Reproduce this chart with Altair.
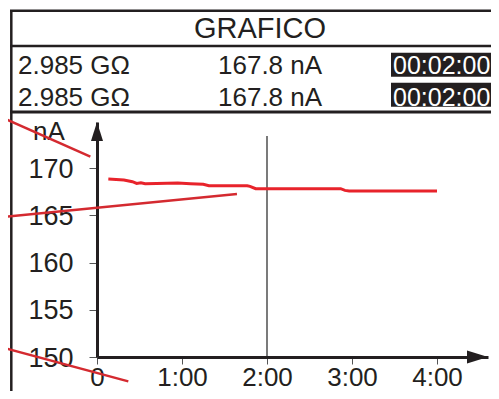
import altair as alt
import pandas as pd

# ---- data ----
TITLE = "GRAFICO"
RESISTANCE = ["2.985 GΩ", "2.985 GΩ"]
CURRENT = ["167.8 nA", "167.8 nA"]
TIMER = ["00:02:00", "00:02:00"]
Y_UNIT = "nA"

TIME_S = [8, 19, 25, 28, 31, 34, 42, 57, 66, 75, 79, 106, 108, 112, 172, 175, 178, 240]
CURRENT_NA = [168.83, 168.73, 168.55, 168.37, 168.44, 168.34, 168.37, 168.41, 168.34,
              168.27, 168.13, 168.13, 168.06, 167.81, 167.81, 167.63, 167.56, 167.56]

X_TICKS = [0, 60, 120, 180, 240]
Y_TICKS = [150, 155, 160, 165, 170]
X_DOMAIN = [0, 276]
Y_DOMAIN = [150, 174.87]

CURSOR_T = 120
CURSOR_TOP = 173.4

# callout (annotation) segments: id, start (t, v), end (t, v)
CALLOUT_ID = [1, 1, 2, 2, 3, 3]
CALLOUT_T = [-68.3, -4.7, -68.3, 98.8, -68.3, 22.1]
CALLOUT_V = [175.43, 171.2, 164.78, 167.25, 151.06, 147.42]

INK = "#231f20"
FONT = "Liberation Sans"
NARROW = "Liberation Sans Narrow, Arial Narrow, Liberation Sans"

xs = alt.Scale(domain=X_DOMAIN, nice=False, zero=False)
ys = alt.Scale(domain=Y_DOMAIN, nice=False, zero=False)

one = pd.DataFrame({"k": [0]})

x_axis = alt.Axis(
    values=X_TICKS, title=None, grid=False,
    labelExpr="datum.value == 0 ? '0' : (datum.value / 60) + ':00'",
    labelFont=NARROW, labelFontSize=26, labelColor=INK, labelPadding=0,
    tickSize=7, tickColor="#555555", tickWidth=1,
    domainColor=INK, domainWidth=3, labelFlush=False,
)
y_axis = alt.Axis(
    values=Y_TICKS, title=None, grid=False,
    labelFont=NARROW, labelFontSize=27, labelColor=INK, labelPadding=16,
    tickSize=8, tickColor="#555555", tickWidth=1, labelOffset=1,
    domainColor=INK, domainWidth=3, labelFlush=False,
)

series = pd.DataFrame({"t": TIME_S, "v": CURRENT_NA})
line = alt.Chart(series).mark_line(color="#e8232b", strokeWidth=3).encode(
    x=alt.X("t:Q", scale=xs, axis=x_axis),
    y=alt.Y("v:Q", scale=ys, axis=y_axis),
)

cursor = alt.Chart(pd.DataFrame({"t": [CURSOR_T], "v": [Y_DOMAIN[0]], "v2": [CURSOR_TOP]})).mark_rule(
    color="#222222", strokeWidth=1.2
).encode(x=alt.X("t:Q", scale=xs), y=alt.Y("v:Q", scale=ys), y2="v2:Q")

arrow_up = alt.Chart(pd.DataFrame({"t": [X_DOMAIN[0]], "v": [Y_DOMAIN[1]]})).mark_point(
    shape="M0,0 L0.6,1.9 L-0.6,1.9 Z", size=400, filled=True, color=INK, opacity=1
).encode(x=alt.X("t:Q", scale=xs), y=alt.Y("v:Q", scale=ys))
arrow_right = alt.Chart(pd.DataFrame({"t": [X_DOMAIN[1]], "v": [Y_DOMAIN[0]]})).mark_point(
    shape="M0,0 L-2.1,-0.65 L-2.1,0.65 Z", size=400, filled=True, color=INK, opacity=1
).encode(x=alt.X("t:Q", scale=xs), y=alt.Y("v:Q", scale=ys))

callouts = alt.Chart(pd.DataFrame({"id": CALLOUT_ID, "t": CALLOUT_T, "v": CALLOUT_V})).mark_line(
    color="#d42a30", strokeWidth=2.5
).encode(x=alt.X("t:Q", scale=xs), y=alt.Y("v:Q", scale=ys), detail="id:N")

# ---- display frame ----
def hrule(y, x1, x2, w):
    return alt.Chart(one).mark_rule(color=INK, strokeWidth=w).encode(
        x=alt.value(x1), x2=alt.value(x2), y=alt.value(y))

frame = [
    alt.Chart(one).mark_rule(color=INK, strokeWidth=2.5).encode(
        x=alt.value(-85.7), y=alt.value(-112), y2=alt.value(290)),
    hrule(-111.2, -87, 410, 2.5),
    hrule(-76, -87, 410, 2.5),
    hrule(-10, -87, 410, 3),
]

def label(txt, x, y, size, align="left", color=INK, font=FONT):
    return alt.Chart(pd.DataFrame({"s": [txt]})).mark_text(
        font=font, fontSize=size, align=align, baseline="alphabetic", color=color
    ).encode(text="s:N", x=alt.value(x), y=alt.value(y))

boxes = [
    alt.Chart(one).mark_rect(color=INK).encode(
        x=alt.value(294), x2=alt.value(405), y=alt.value(-69.3), y2=alt.value(-45.3)),
    alt.Chart(one).mark_rect(color=INK).encode(
        x=alt.value(294), x2=alt.value(405), y=alt.value(-39.3), y2=alt.value(-15.3)),
]

texts = [
    label(TITLE, 163, -84, 29, align="center"),
    label(RESISTANCE[0], -79, -48.5, 26),
    label(RESISTANCE[1], -79, -16, 26),
    label(CURRENT[0], 121, -48.5, 26),
    label(CURRENT[1], 121, -16, 26),
    label(TIMER[0], 296, -48.5, 25, color="white"),
    label(TIMER[1], 296, -16, 25, color="white"),
    label(Y_UNIT, -48, 18, 26, align="center", font=NARROW),
]

chart = alt.layer(
    *frame, *boxes, *texts, cursor, line, callouts, arrow_up, arrow_right
).properties(
    width=391, height=235,
    autosize=alt.AutoSizeParams(type="none"),
    padding={"left": 89, "top": 114, "right": 3, "bottom": 34},
    background="white",
).configure_view(stroke=None)

chart.save("out.html", embed_options={"renderer": "svg", "actions": False})
